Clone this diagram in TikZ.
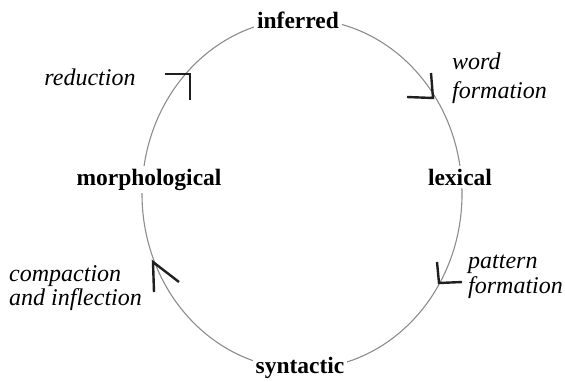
\documentclass[tikz,border=0pt]{standalone}
\usepackage{fontspec}
\setmainfont{Liberation Serif}
\begin{document}
\begin{tikzpicture}[x=1pt,y=-1pt,
  stage/.style={font=\fontsize{23.5}{28}\selectfont\bfseries, fill=white, inner sep=3pt},
  process/.style={font=\fontsize{24}{25}\selectfont\itshape, align=left, inner sep=0pt},
  cycleline/.style={draw=black!45, line width=1.1pt},
  head/.style={draw=black!88, line width=2.4pt}]
\useasboundingbox (0,0) rectangle (565,381);
\draw[cycleline] (302,194) ellipse [x radius=160, y radius=175];
% stages
\node[stage, anchor=base] (inferred) at (298,28) {inferred};
\node[stage, anchor=base] (lexical) at (460,185) {lexical};
\node[stage, anchor=base] (syntactic) at (300,373) {syntactic};
\node[stage, anchor=base] (morph) at (149,185) {morphological};
% processes
\node[process, anchor=base] (reduction) at (90,85) {reduction};
\node[process, anchor=base west, font=\fontsize{24}{29}\selectfont\itshape] (wordf) at (452,98) {word\\formation};
\node[process, anchor=base west] (patternf) at (468,293) {pattern\\formation};
\node[process, anchor=base west, font=\fontsize{24}{24}\selectfont\itshape] (compaction) at (9,305) {compaction\\and inflection};
% arrowheads (clockwise)
\draw[head] (165,74) -- (190,74) -- (190,100);
\draw[head] (431,73) -- (433,98) -- (407,97);
\draw[head] (437,262) -- (439,283) -- (462,282);
\draw[head] (154,292) -- (153,262) -- (179,282);
\end{tikzpicture}
\end{document}
